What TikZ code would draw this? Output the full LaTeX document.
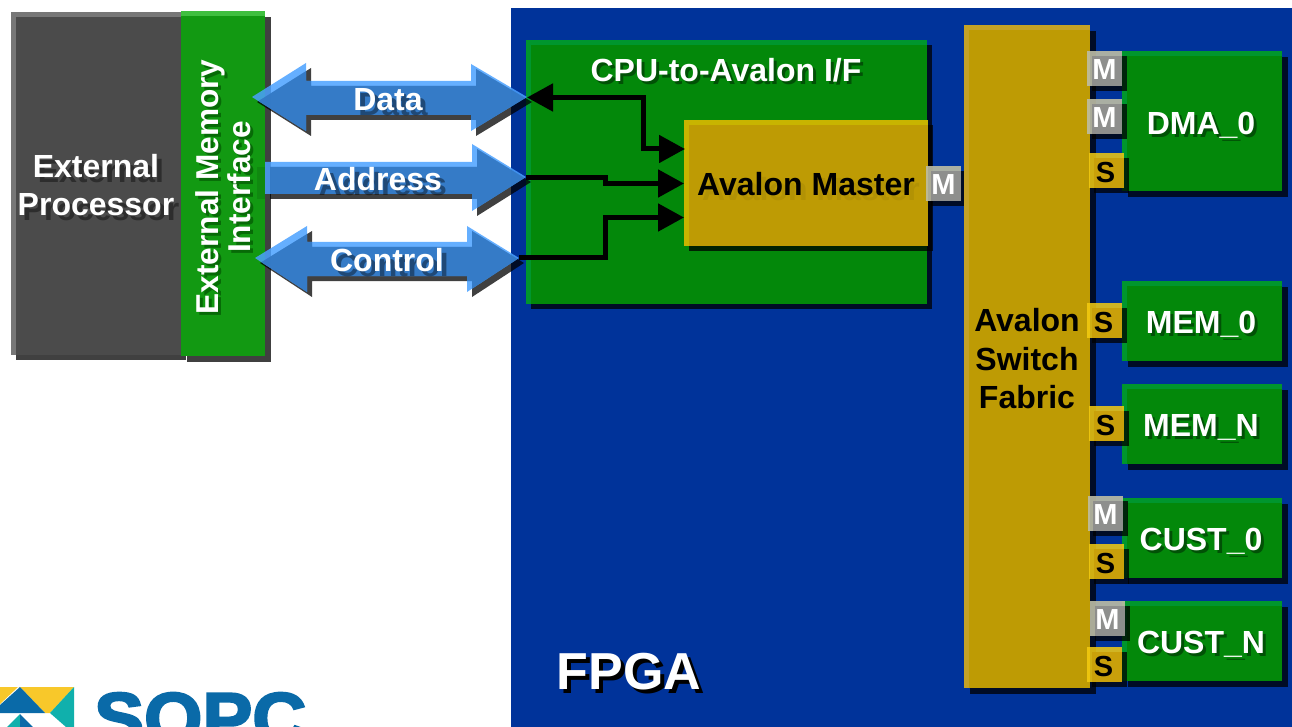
\documentclass[tikz,border=0pt]{standalone}
\usepackage{fontspec}
\setmainfont{Liberation Sans}[BoldFont=* Bold]
\usetikzlibrary{arrows.meta}
\definecolor{fpgablue}{HTML}{00339A}
\definecolor{fgreen}{HTML}{03880A}
\definecolor{fgreenhi}{HTML}{00962E}
\definecolor{gold}{HTML}{BE9B04}
\definecolor{goldhi}{HTML}{C8B400}
\definecolor{fabhi}{HTML}{C4A226}
\definecolor{sgold}{HTML}{C89E0A}
\definecolor{sgoldhi}{HTML}{F5CC10}
\definecolor{mgrey}{HTML}{8C8C8C}
\definecolor{mgreyhi}{HTML}{BDBDA5}
\definecolor{procgrey}{HTML}{4B4B4B}
\definecolor{prochi}{HTML}{777777}
\definecolor{ifgreen}{HTML}{129912}
\definecolor{ifhi}{HTML}{3FBF3F}
\definecolor{arrowmain}{HTML}{3278C3}
\definecolor{arrowhi}{HTML}{4BA1FF}
\definecolor{logoblue}{HTML}{0A6AA8}
\definecolor{logoyellow}{HTML}{F8C82A}
\definecolor{logoteal}{HTML}{10B0AC}
\tikzset{
  lab/.style={inner sep=0pt,font=\fontsize{32}{38.5}\selectfont\bfseries,align=center,text=white},
  tag/.style={inner sep=0pt,font=\fontsize{29}{34}\selectfont\bfseries},
  boxshadow/.style={fill=black,opacity=.75},
  wire/.style={line width=5pt,black,line join=miter},
  bighead/.style={-{Triangle[length=26pt,width=27pt]}},
  bothhead/.style={{Triangle[length=26pt,width=27pt]}-{Triangle[length=26pt,width=27pt]}},
  txtshadow/.style={opacity=.4,text=black}
}
% name, x1,y1,x2,y2, fill, hilite, shadow offset, hilite width
\newcommand\pbox[9]{%
  \fill[boxshadow] ({#2+#8},{#3+#8}) rectangle ({#4+#8},{#5+#8});
  \fill[#7] (#2,#3) rectangle (#4,#5);
  \fill[#6] ({#2+#9},{#3+#9}) rectangle (#4,#5);
  \node[inner sep=0pt,minimum width={(#4-#2)*1pt},minimum height={(#5-#3)*1pt}] (#1) at ({(#2+#4)/2},{(#3+#5)/2}) {};
}
% name, x,y, opts, offset, text
\newcommand\slabel[6]{%
  \node[lab,txtshadow,#4] at ({#2+#5},{#3+#5}) {#6};
  \node[lab,#4] (#1) at (#2,#3) {#6};
}
% M and S tags
\newcommand\mtag[3]{%
  \pbox{#1}{#2}{#3}{#2+35}{#3+35}{mgrey,opacity=.9}{mgreyhi,opacity=.9}{5}{5}
  \node[tag,text=white] at ({#2+17.5},{#3+18.5}) {M};
}
\newcommand\stag[3]{%
  \pbox{#1}{#2}{#3}{#2+35}{#3+35}{sgold,opacity=.85}{sgoldhi,opacity=.85}{5}{5}
  \node[tag,text=black] at ({#2+16.5},{#3+19.5}) {S};
}
\newcommand\blockarrow[1]{%
  \fill[black,opacity=.75,shift={(5,5)}] #1 -- cycle;
  \fill[arrowhi,opacity=.85] #1 -- cycle;
  \begin{scope}
    \clip #1 -- cycle;
    \fill[arrowmain,opacity=.85,shift={(5,5)}] #1 -- cycle;
  \end{scope}
}
\begin{document}
\begin{tikzpicture}[x=1pt,y=-1pt]
\useasboundingbox (0,0) rectangle (1292,727);
\clip (0,0) rectangle (1292,727);
\fill[white] (0,0) rectangle (1292,727);

% FPGA background
\fill[fpgablue] (511,8) rectangle (1292,727);
\node[inner sep=0pt,font=\fontsize{52}{60}\selectfont\bfseries,text=black] at (633,676) {FPGA};
\node[inner sep=0pt,font=\fontsize{52}{60}\selectfont\bfseries,text=white] (fpga) at (629,672) {FPGA};

% External processor
\pbox{proc}{11}{12}{181}{355}{procgrey}{prochi}{5}{5}
\pbox{emi}{181}{11}{265}{356}{ifgreen}{ifhi}{6}{0}
\fill[ifhi] (181,11) rectangle (265,16);
\slabel{proclabel}{96}{185}{}{5}{External\\Processor}
\node[lab,rotate=90,font=\fontsize{31.6}{32}\selectfont\bfseries,text=black!70!green,opacity=.6] at (226,190) {External Memory\\Interface};
\node[lab,rotate=90,font=\fontsize{31.6}{32}\selectfont\bfseries] (emilabel) at (223,187) {External Memory\\Interface};
\fill[black,opacity=.1] (257,167) rectangle (265,199);

% CPU interface
\pbox{cpuif}{526}{40}{927}{304}{fgreen}{fgreenhi}{5}{5}
\slabel{cpuiflabel}{726}{70}{}{3}{CPU-to-Avalon I/F}
\pbox{master}{684}{120}{928}{246}{gold}{goldhi}{5}{5}
\node[lab,text=black!6!gold] at (811,189) {Avalon Master};
\node[lab,text=black] (masterlabel) at (806,184) {Avalon Master};
\mtag{mastertag}{926}{166}

% Fabric
\pbox{fabric}{964}{25}{1090}{688}{gold}{fabhi}{6}{5}
\node[lab,text=black] (fabriclabel) at (1027,359) {Avalon\\Switch\\Fabric};

% Peripherals
\pbox{dma}{1122}{51}{1282}{191}{fgreen}{fgreenhi}{6}{5}
\slabel{dmalabel}{1201}{125}{}{3}{DMA\_0}
\pbox{memz}{1122}{281}{1282}{361}{fgreen}{fgreenhi}{6}{5}
\slabel{memzlabel}{1201}{324}{}{3}{MEM\_0}
\pbox{memn}{1122}{384}{1282}{464}{fgreen}{fgreenhi}{6}{5}
\slabel{memnlabel}{1201}{427}{}{3}{MEM\_N}
\pbox{custz}{1122}{498}{1282}{578}{fgreen}{fgreenhi}{6}{5}
\slabel{custzlabel}{1201}{541}{}{3}{CUST\_0}
\pbox{custn}{1122}{601}{1282}{681}{fgreen}{fgreenhi}{6}{5}
\slabel{custnlabel}{1201}{644}{}{3}{CUST\_N}

\mtag{ma}{1087}{51}
\mtag{mb}{1087}{99}
\stag{sa}{1089}{153}
\stag{sb}{1087}{303}
\stag{sc}{1089}{406}
\mtag{mc}{1088}{496}
\stag{sd}{1089}{544}
\mtag{md}{1090}{601}
\stag{se}{1087}{647}

% Block arrows
\blockarrow{(252,97) -- (306,63) -- (306,81) -- (471,81) -- (471,64) -- (527,97) -- (471,131) -- (471,115) -- (306,115) -- (306,131)}
\slabel{datalabel}{388}{100}{}{5}{Data}
\blockarrow{(265,162) -- (472,162) -- (472,144) -- (526,177) -- (472,211) -- (472,194) -- (265,194)}
\slabel{addrlabel}{378}{179}{}{5}{Address}
\blockarrow{(255,258) -- (307,226) -- (307,242) -- (467,242) -- (467,226) -- (519,258) -- (467,292) -- (467,276) -- (307,276) -- (307,292)}
\slabel{ctrllabel}{387}{260}{}{5}{Control}

% Black connectors
\coordinate (datatip) at (527,97.5);
\coordinate (addrtip) at (526,177.5);
\coordinate (ctrltip) at (519,257.5);
\coordinate (mdata) at (685,149);
\coordinate (maddr) at (684,183.5);
\coordinate (mctrl) at (684,217.5);
\draw[wire,bothhead] (datatip) -- (643.5,97.5) -- (643.5,149) -- (mdata);
\draw[wire,bighead] (addrtip) -- (605.5,177.5) -- (605.5,183.5) -- (maddr);
\draw[wire,bighead] (ctrltip) -- (605.5,257.5) -- (605.5,217.5) -- (mctrl);

% Logo
\fill[logoyellow] (0,687) -- (74,687) -- (50,713) -- (45,713) -- (20,687) -- (18,687) -- (0,704) -- cycle;
\fill[logoblue] (20,687) -- (45,713) -- (0,713) -- (0,705) -- cycle;
\fill[logoteal] (74,687) -- (74,727) -- (66,727) -- (50,713) -- cycle;
\fill[logoteal] (7,727) -- (20,714) -- (20,727) -- cycle;
\fill[logoblue] (20,714) -- (33,727) -- (20,727) -- cycle;
\node[inner sep=0pt,anchor=base west,xscale=1.04,text=logoblue,font=\fontsize{72}{76}\selectfont\bfseries\addfontfeature{FakeBold=3}] (logo) at (94,743) {SOPC};
\end{tikzpicture}
\end{document}
